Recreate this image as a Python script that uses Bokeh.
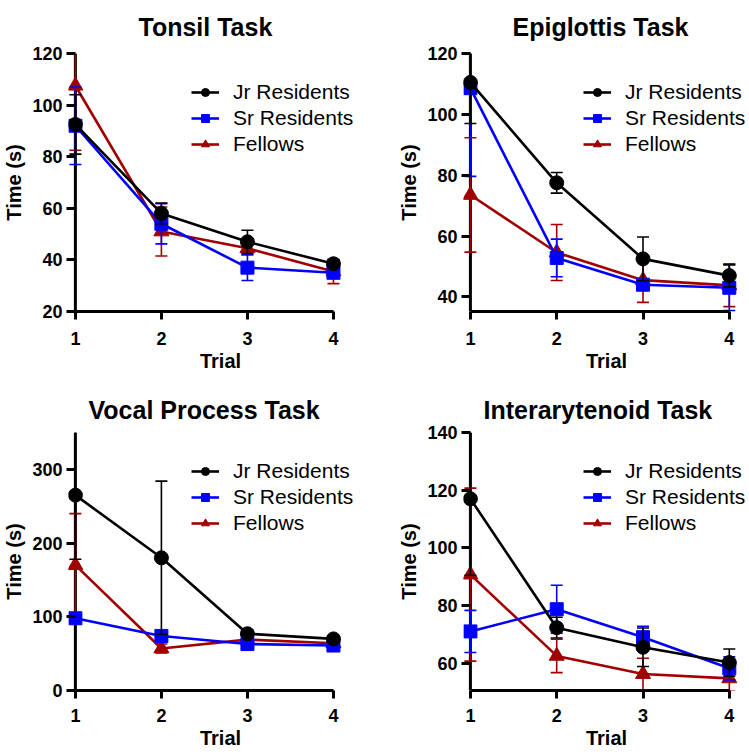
from bokeh.plotting import figure
from bokeh.layouts import gridplot
from bokeh.models import FixedTicker, Legend, LegendItem, Range1d, Span
from bokeh.embed import file_html
from bokeh.resources import INLINE

# ---------------- data ----------------
trials = [1, 2, 3, 4]
group_names = ["Jr Residents", "Sr Residents", "Fellows"]

tonsil_jr = [92.5, 58.0, 47.0, 38.5]
tonsil_jr_err = [11.5, 4.0, 4.5, 1.5]
tonsil_sr = [92.0, 54.0, 37.0, 35.0]
tonsil_sr_err = [15.0, 7.8, 5.0, 1.5]
tonsil_fel = [107.5, 51.0, 44.5, 35.5]
tonsil_fel_err = [25.0, 9.5, 2.5, 4.7]

epi_jr = [110.5, 77.5, 52.5, 47.0]
epi_jr_err = [13.5, 3.4, 7.2, 3.7]
epi_sr = [108.6, 52.8, 44.0, 43.0]
epi_sr_err = [29.0, 6.2, 1.5, 7.5]
epi_fel = [73.5, 54.6, 45.5, 43.8]
epi_fel_err = [18.8, 9.2, 7.3, 7.0]

vocal_jr = [265.0, 180.0, 77.0, 70.0]
vocal_jr_err = [87.0, 104.0, 5.0, 3.0]
vocal_sr = [98.0, 74.0, 63.0, 61.0]
vocal_sr_err = [5.0, 4.0, 3.0, 3.0]
vocal_fel = [170.0, 57.0, 69.0, 64.0]
vocal_fel_err = [70.0, 6.0, 5.0, 3.0]

inter_jr = [117.0, 72.3, 65.5, 60.2]
inter_jr_err = [26.5, 3.6, 6.7, 4.7]
inter_sr = [71.0, 78.7, 69.0, 58.2]
inter_sr_err = [7.3, 8.3, 3.8, 4.0]
inter_fel = [90.7, 62.5, 56.2, 54.7]
inter_fel_err = [30.0, 5.8, 5.5, 4.3]

tonsil_ticks = [20, 40, 60, 80, 100, 120]
epi_ticks = [40, 60, 80, 100, 120]
vocal_ticks = [0, 100, 200, 300]
inter_ticks = [60, 80, 100, 120, 140]

# ---------------- style ----------------
FONT = "Liberation Sans"
COLORS = ["#000000", "#0000FF", "#A00000"]
MARKERS = ["circle", "square", "triangle"]
MSIZES = [14, 13, 15]
PAD = 0.08
FRAME_H = 258
TICK_IN = 7


def make_panel(title, series, errs, y0, y1, yticks, width, height,
               mb_left, mb_right, mb_top, mb_bottom, title_standoff, title_valign,
               title_offset, xlab_standoff, xtitle_standoff, legend_x, pad_r):
    p = figure(width=width, height=height, output_backend="svg",
               toolbar_location=None,
               x_range=Range1d(trials[0] - PAD, trials[-1] + pad_r),
               y_range=Range1d(y0, y1),
               min_border_left=mb_left, min_border_right=mb_right,
               min_border_top=mb_top, min_border_bottom=mb_bottom)
    p.outline_line_color = None
    p.xgrid.visible = False
    p.ygrid.visible = False
    p.background_fill_color = "white"

    p.title.text = title
    p.title.align = "left"
    p.title.offset = title_offset
    p.title.text_font = FONT
    p.title.text_font_size = "25px"
    p.title.text_font_style = "bold"
    p.title.text_color = "black"
    p.title.standoff = title_standoff
    p.title.vertical_align = title_valign

    xa = p.below[0]
    ya = p.left[0]
    for ax in (xa, ya):
        ax.axis_line_width = 3
        ax.axis_line_color = "black"
        ax.major_tick_line_width = 3
        ax.major_tick_line_color = "black"
        ax.minor_tick_line_color = None
        ax.major_label_text_font = FONT
        ax.major_label_text_font_size = "18px"
        ax.major_label_text_font_style = "bold"
        ax.major_label_text_color = "black"
        ax.axis_label_text_font = FONT
        ax.axis_label_text_font_size = "20px"
        ax.axis_label_text_font_style = "bold"
        ax.axis_label_text_color = "black"

    xa.ticker = FixedTicker(ticks=trials)
    xa.bounds = (trials[0], trials[-1])
    xa.major_tick_out = 8
    xa.major_tick_in = 0
    xa.axis_label = "Trial"
    xa.major_label_standoff = xlab_standoff
    xa.axis_label_standoff = xtitle_standoff

    # y axis: ticks/labels at frame edge, ticks reach the axis line drawn at trial 1
    ya.ticker = FixedTicker(ticks=yticks)
    ya.axis_line_color = None
    ya.major_tick_out = 2
    ya.major_tick_in = TICK_IN
    ya.axis_label = "Time (s)"
    ya.major_label_standoff = 4
    ya.axis_label_standoff = 4
    p.add_layout(Span(location=trials[0], dimension="height", line_color="black",
                      line_width=3, level="underlay"))

    items = {}
    # draw Fellows first, Jr on top
    for gi in [2, 1, 0]:
        m = series[gi]
        e = errs[gi]
        c = COLORS[gi]
        lo = [a - b for a, b in zip(m, e)]
        hi = [a + b for a, b in zip(m, e)]
        p.segment(x0=trials, y0=lo, x1=trials, y1=hi, line_color=c, line_width=1.6)
        p.scatter(x=trials, y=hi, marker="dash", size=12, line_color=c, line_width=1.6)
        p.scatter(x=trials, y=lo, marker="dash", size=12, line_color=c, line_width=1.6)
        lr = p.line(x=trials, y=m, line_color=c, line_width=2.6)
        mr = p.scatter(x=trials, y=m, marker=MARKERS[gi], size=MSIZES[gi],
                       fill_color=c, line_color=c)
        items[gi] = LegendItem(label=group_names[gi], renderers=[lr, mr])

    legend = Legend(items=[items[0], items[1], items[2]],
                    location=(legend_x, FRAME_H - 27 - 76),
                    glyph_width=28, glyph_height=20, label_height=20,
                    label_standoff=14, spacing=2, padding=0, margin=0,
                    label_text_font=FONT, label_text_font_size="21px",
                    label_text_color="black",
                    border_line_color=None, background_fill_alpha=0)
    p.add_layout(legend)
    return p


p1 = make_panel("Tonsil Task",
                [tonsil_jr, tonsil_sr, tonsil_fel],
                [tonsil_jr_err, tonsil_sr_err, tonsil_fel_err],
                20, 120, tonsil_ticks, 375, 377, 67, 3, 53, 66, 21, "top", 70,
                12, 2, 123, 0.454)
p2 = make_panel("Epiglottis Task",
                [epi_jr, epi_sr, epi_fel],
                [epi_jr_err, epi_sr_err, epi_fel_err],
                35.2, 120, epi_ticks, 374, 377, 88, 0, 53, 66, 21, "top", 49,
                12, 2, 120, 0.234)
p3 = make_panel("Vocal Process Task",
                [vocal_jr, vocal_sr, vocal_fel],
                [vocal_jr_err, vocal_sr_err, vocal_fel_err],
                0, 350, vocal_ticks, 375, 377, 67, 3, 55, 64, 18, "bottom", 20,
                10, 2, 123, 0.454)
p4 = make_panel("Interarytenoid Task",
                [inter_jr, inter_sr, inter_fel],
                [inter_jr_err, inter_sr_err, inter_fel_err],
                50.5, 140, inter_ticks, 374, 377, 88, 0, 55, 64, 18, "bottom", 20,
                10, 2, 120, 0.234)

grid = gridplot([[p1, p2], [p3, p4]], toolbar_location=None)

open("out.html", "w").write(file_html(grid, INLINE))
